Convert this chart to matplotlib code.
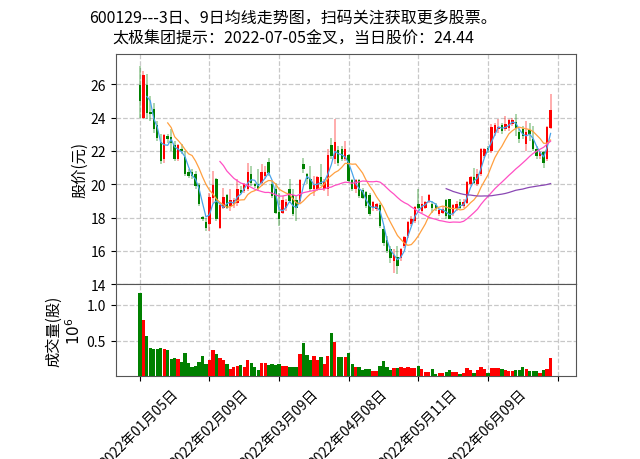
import matplotlib
matplotlib.use("Agg")
import matplotlib.pyplot as plt
import numpy as np
import pandas as pd

plt.rcParams['font.family'] = ['Noto Sans CJK SC', 'DejaVu Sans']
plt.rcParams['axes.unicode_minus'] = False

title_lines = ["600129---3日、9日均线走势图，扫码关注获取更多股票。",
               "太极集团提示：2022-07-05金叉，当日股价：24.44"]

tick_labels = ["2022年01月05日", "2022年02月09日", "2022年03月09日",
               "2022年04月08日", "2022年05月11日", "2022年06月09日", ""]

opens = [25.9, 24.0, 25.9, 24.3, 24.5, 23.5, 22.5, 21.5, 22.85, 22.8,
         22.3, 21.5, 22.1, 21.6, 20.7, 20.7, 20.6, 19.9, 18.0, 17.7,
         17.6, 19.2, 20.3, 17.4, 18.6, 19.3, 18.7, 18.8, 18.9, 19.6,
         19.6, 19.7, 20.6, 20.0, 20.0, 20.1, 20.5, 21.3, 20.0, 19.7,
         18.3, 18.3, 18.6, 19.7, 19.3, 19.0, 19.0, 21.2, 20.6, 20.3,
         19.7, 19.7, 20.4, 19.7, 19.7, 22.3, 21.5, 22.0, 22.1, 21.5,
         21.7, 20.2, 19.7, 20.2, 19.6, 19.5, 19.3, 18.6, 18.5, 18.7,
         17.3, 16.6, 16.1, 15.4, 15.6, 15.6, 16.3, 16.9, 17.6, 17.8,
         18.8, 18.4, 18.6, 19.0, 18.8, 18.7, 18.2, 18.3, 19.0, 19.1,
         18.2, 18.5, 18.9, 18.7, 18.9, 20.0, 20.4, 20.0, 20.6, 21.7,
         22.15, 22.0, 23.1, 23.3, 23.5, 23.3, 23.4, 23.6, 23.7, 23.1,
         23.3, 22.4, 23.2, 22.7, 22.1, 21.7, 21.9, 21.5, 23.4]
highs = [27.1, 26.8, 26.6, 25.3, 24.9, 23.8, 23.0, 23.0, 23.0, 23.3,
         22.6, 22.4, 22.4, 22.0, 20.9, 20.9, 20.8, 20.1, 18.1, 18.0,
         19.5, 20.8, 20.4, 18.9, 19.8, 19.4, 19.7, 19.2, 20.3, 19.9,
         20.1, 21.3, 21.1, 20.1, 20.9, 21.2, 21.1, 21.6, 20.2, 20.1,
         19.5, 19.3, 19.1, 20.3, 19.7, 19.3, 20.3, 21.6, 20.7, 21.1,
         20.5, 20.5, 21.2, 20.3, 22.1, 22.8, 23.9, 22.3, 22.3, 22.6,
         21.8, 20.3, 20.3, 20.3, 19.8, 19.6, 19.5, 19.0, 18.9, 18.9,
         17.5, 16.9, 16.3, 16.1, 16.3, 16.2, 16.9, 17.8, 18.1, 18.7,
         19.7, 19.3, 19.0, 19.4, 19.0, 18.9, 18.5, 18.7, 19.1, 19.1,
         18.8, 19.0, 19.1, 19.1, 20.2, 20.5, 21.0, 20.9, 22.2, 22.2,
         22.3, 23.6, 23.7, 23.9, 23.7, 24.1, 23.9, 24.0, 24.2, 23.3,
         23.5, 23.8, 23.7, 23.5, 22.3, 22.0, 22.0, 23.5, 25.4]
lows = [24.0, 23.9, 23.9, 23.8, 23.1, 22.6, 21.2, 21.3, 22.5, 22.0,
        21.4, 21.4, 21.8, 20.5, 20.4, 20.3, 19.7, 18.7, 17.8, 17.2,
        17.2, 18.9, 17.8, 17.3, 18.5, 18.5, 18.4, 18.6, 18.7, 19.4,
        19.5, 19.6, 19.9, 19.8, 19.6, 19.9, 20.3, 20.5, 19.2, 18.2,
        17.5, 18.2, 18.4, 18.9, 18.1, 17.8, 18.9, 20.7, 20.0, 19.6,
        19.3, 19.6, 19.9, 19.6, 19.3, 21.5, 21.2, 21.1, 21.4, 21.4,
        20.1, 19.6, 19.5, 19.2, 19.1, 18.6, 18.1, 18.4, 18.4, 17.4,
        16.3, 15.9, 15.3, 14.7, 14.6, 15.4, 16.2, 16.8, 17.5, 17.7,
        18.5, 18.3, 18.5, 18.9, 18.3, 18.4, 18.1, 18.2, 17.9, 17.9,
        18.1, 18.4, 18.5, 18.6, 18.8, 19.9, 20.0, 19.9, 20.5, 21.6,
        21.9, 21.9, 22.9, 23.1, 23.0, 23.2, 23.2, 23.5, 22.9, 22.5,
        22.7, 22.0, 22.6, 22.0, 21.5, 21.5, 21.0, 21.4, 23.3]
closes = [25.0, 26.5, 24.3, 24.2, 23.3, 22.8, 21.4, 22.9, 22.7, 22.5,
          21.5, 22.3, 22.0, 20.6, 20.5, 20.5, 19.9, 18.8, 17.9, 17.4,
          19.2, 19.9, 17.9, 18.7, 19.2, 18.6, 19.0, 19.0, 19.7, 19.5,
          20.0, 20.7, 20.1, 19.9, 19.7, 20.7, 20.7, 20.7, 19.3, 18.3,
          17.9, 19.0, 18.9, 19.0, 18.2, 18.6, 20.2, 20.9, 20.3, 19.7,
          19.9, 20.4, 20.0, 20.1, 21.7, 21.7, 22.5, 21.3, 21.5, 22.1,
          20.2, 19.7, 20.2, 19.3, 19.2, 18.7, 18.2, 18.9, 18.8, 17.5,
          16.5, 16.0, 15.6, 15.7, 15.1, 16.1, 16.8, 17.7, 17.9, 18.6,
          18.6, 18.8, 18.9, 19.3, 18.6, 18.5, 18.4, 18.5, 18.1, 17.9,
          18.7, 18.8, 18.6, 18.9, 20.1, 20.4, 20.1, 20.6, 22.1, 22.1,
          22.05, 23.4, 23.5, 23.4, 23.2, 23.6, 23.8, 23.8, 23.4, 22.7,
          22.9, 23.1, 23.0, 22.1, 21.7, 21.9, 21.3, 23.4, 24.44]
volumes = [1.17, 0.79, 0.57, 0.40, 0.38, 0.38, 0.40, 0.38, 0.37, 0.24,
           0.26, 0.24, 0.20, 0.33, 0.19, 0.13, 0.15, 0.20, 0.28, 0.17,
           0.23, 0.37, 0.31, 0.26, 0.23, 0.17, 0.10, 0.13, 0.14, 0.16,
           0.13, 0.23, 0.19, 0.13, 0.09, 0.19, 0.18, 0.16, 0.17, 0.16,
           0.17, 0.14, 0.14, 0.13, 0.13, 0.13, 0.31, 0.47, 0.30, 0.23,
           0.28, 0.23, 0.27, 0.17, 0.28, 0.60, 0.48, 0.27, 0.27, 0.27,
           0.33, 0.17, 0.13, 0.13, 0.09, 0.10, 0.10, 0.07, 0.07, 0.14,
           0.22, 0.13, 0.08, 0.11, 0.11, 0.13, 0.11, 0.13, 0.11, 0.11,
           0.15, 0.10, 0.06, 0.06, 0.10, 0.03, 0.04, 0.04, 0.06, 0.09,
           0.06, 0.06, 0.03, 0.04, 0.11, 0.09, 0.05, 0.08, 0.13, 0.10,
           0.05, 0.11, 0.11, 0.11, 0.10, 0.08, 0.07, 0.07, 0.08, 0.09,
           0.13, 0.10, 0.07, 0.07, 0.07, 0.05, 0.09, 0.10, 0.26]
volumes = [v * 1e6 for v in volumes]

ma_windows = [3, 9, 24, 89]
ma_colors = ['#4aa3ea', '#ffa040', '#ff4fc4', '#8a48b4']

n = len(closes)
x = np.arange(n)
o = np.array(opens); h = np.array(highs); l = np.array(lows); c = np.array(closes)
up = c >= o
colors = np.where(up, 'red', 'green')

fig = plt.figure(figsize=(6.4, 4.6), dpi=100)
ax1 = fig.add_axes([0.181, 0.380, 0.719, 0.500])
ax2 = fig.add_axes([0.181, 0.180, 0.719, 0.200], sharex=ax1)

grid_kw = dict(color='#c8c8c8', linestyle='--', linewidth=0.9)

# price panel
ax1.vlines(x, l, h, colors=colors, linewidth=1.3, alpha=0.35, zorder=2)
ax1.bar(x, np.abs(c - o) + 0.03, bottom=np.minimum(o, c), width=0.7,
        color=colors, zorder=3)
s = pd.Series(c)
for w, col in zip(ma_windows, ma_colors):
    ax1.plot(x, s.rolling(w).mean(), color=col, linewidth=0.9, zorder=4)

ax1.set_ylim(14, 27.8)
ax1.set_yticks([14, 16, 18, 20, 22, 24, 26])
ax1.set_ylabel('股价(元)', fontsize=11, labelpad=2)
ax1.grid(True, **grid_kw)
ax1.set_axisbelow(True)
ax1.tick_params(axis='x', labelbottom=False)
ax1.tick_params(labelsize=10)

# volume panel
ax2.bar(x, volumes, width=0.95, color=colors, zorder=3)
ax2.set_ylim(0, 1.29e6)
ax2.set_yticks([0.5e6, 1.0e6])
ax2.yaxis.get_offset_text().set_visible(False)
ax2.set_yticklabels(['0.5', '1.0'])
ax2.set_ylabel('成交量(股)\n$10^6$', fontsize=11, labelpad=2)
ax2.grid(True, **grid_kw)
ax2.set_axisbelow(True)
ax2.set_xlim(-6.9, 125.3)
ax2.set_xticks(np.arange(0, 121, 20))
ax2.set_xticklabels(tick_labels, rotation=45, ha='center', fontsize=10)
ax2.tick_params(labelsize=10)

for ax in (ax1, ax2):
    for sp in ax.spines.values():
        sp.set_color('#555555')

fig.text(0.458, 0.958, title_lines[0], ha='center', va='center', fontsize=11.5)
fig.text(0.458, 0.915, title_lines[1], ha='center', va='center', fontsize=11.5)

fig.savefig('out.png', dpi=100)
